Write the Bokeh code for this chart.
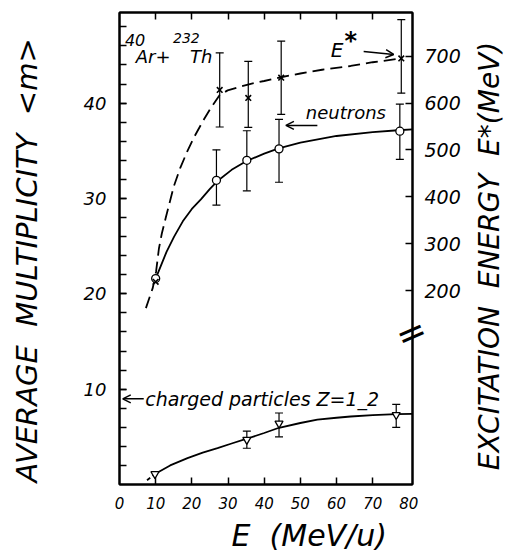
import math
from bokeh.plotting import figure
from bokeh.models import (Range1d, LinearAxis, FixedTicker, ColumnDataSource,
                          Whisker, TeeHead, Label, Arrow, OpenHead)
from bokeh.embed import file_html
from bokeh.resources import INLINE

# ---------------- data ----------------
x_label_ticks = [0, 10, 20, 30, 40, 50, 60, 70, 80]
x_inner_ticks = [10, 20, 30, 40, 50, 60, 70]
y_ticks = [10, 20, 30, 40]
y_minor_ticks = [2, 4, 6, 8, 10, 12, 14, 16, 18, 20, 22, 24, 26, 28, 30,
                 32, 34, 36, 38, 40, 42, 44, 46, 48]
estar_ticks = [200, 300, 400, 500, 600, 700]

# neutrons: average multiplicity
n_E = [10.0, 26.8, 35.2, 44.1, 77.5]
n_m = [21.6, 31.9, 34.0, 35.2, 37.05]
n_up = [None, 35.1, 37.1, 38.3, 39.9]
n_lo = [None, 29.3, 30.8, 31.7, 34.1]
n_fit_E = [10, 11.4, 13, 15.1, 17.5, 20, 22.5, 25, 27, 31, 35, 40, 44, 50, 60, 70, 77, 81]
n_fit_m = [21.6, 22.9, 24.4, 26.0, 27.6, 28.9, 29.9, 31.0, 31.8, 33.0, 33.9, 34.7,
           35.25, 35.85, 36.55, 36.95, 37.15, 37.25]

# excitation energy E* (MeV)
e_E = [10.0, 27.7, 35.6, 44.7, 77.9]
e_star = [219, 628, 611, 654, 695]
e_up = [None, 707, 689, 732, 778]
e_lo = [None, 549, 548, 576, 621]
e_fit_E = [7.3, 9.2, 10.1, 10.9, 11.7, 12.8, 13.7, 15.0, 16.8, 18.8, 20.6, 23.4,
           25.2, 27.7, 29.9, 33.0, 36.3, 40.0, 44.6, 50.0, 56.0, 63.9, 70.0, 77.9]
e_fit_star = [163, 206, 240, 290, 322, 356, 383, 422, 462, 498, 527, 566,
              589, 617, 627, 634, 641, 647, 655, 663, 671, 679, 687, 695]

# charged particles Z=1-2
c_E = [9.8, 35.2, 44.1, 76.5]
c_m = [1.1, 4.7, 6.4, 7.3]
c_up = [None, 5.6, 7.5, 8.4]
c_lo = [None, 3.8, 5.0, 6.0]
c_fit_E = [9.8, 14, 18.8, 23, 27.1, 31, 35.2, 40, 44.1, 50, 54.7, 60, 63.9, 70, 76.5, 81]
c_fit_m = [1.1, 2.0, 2.77, 3.35, 3.82, 4.3, 4.8, 5.4, 5.95, 6.45, 6.8, 7.0, 7.13,
           7.28, 7.38, 7.4]
c_ext_E = [7.6, 9.4]
c_ext_m = [0.45, 0.95]

FONT = "DejaVu Sans"
GAP = "\u00a0 "

p = figure(width=507, height=552, x_range=Range1d(0, 81), y_range=Range1d(0, 49.5),
           output_backend="svg", toolbar_location=None,
           min_border_left=119, min_border_right=95, min_border_top=12,
           min_border_bottom=68)
p.xgrid.visible = False
p.ygrid.visible = False
p.outline_line_color = "black"
p.outline_line_width = 2
p.background_fill_color = "white"
p.border_fill_color = "white"

p.extra_y_ranges = {"estar": Range1d(-213, 793)}


def style_axis(ax, size):
    ax.axis_line_color = "black"
    ax.axis_line_width = 2
    ax.major_tick_line_color = "black"
    ax.major_tick_line_width = 1.5
    ax.minor_tick_line_color = "black"
    ax.minor_tick_line_width = 1.5
    ax.major_tick_out = 0
    ax.minor_tick_out = 0
    ax.major_label_text_font = FONT
    ax.major_label_text_font_style = "italic"
    ax.major_label_text_font_size = size
    ax.major_label_text_color = "black"


# bottom axis
xa = p.xaxis[0]
xa.ticker = FixedTicker(ticks=x_label_ticks, minor_ticks=x_inner_ticks)
style_axis(xa, "15px")
xa.major_tick_in = 0
xa.minor_tick_in = 7
xa.major_label_standoff = 12

# left axis
ya = p.yaxis[0]
ya.ticker = FixedTicker(ticks=y_ticks, minor_ticks=y_minor_ticks)
style_axis(ya, "18px")
ya.major_tick_in = 7
ya.minor_tick_in = 7
ya.major_label_standoff = 13

# top axis (ticks only)
ta = LinearAxis(ticker=FixedTicker(ticks=x_inner_ticks, minor_ticks=[]))
style_axis(ta, "1px")
ta.major_label_text_color = None
ta.major_tick_in = 7
ta.minor_tick_in = 0
ta.major_label_standoff = 0
p.add_layout(ta, "above")

# right axis
ra = LinearAxis(y_range_name="estar", ticker=FixedTicker(ticks=estar_ticks, minor_ticks=[]))
style_axis(ra, "19px")
ra.major_tick_in = 7
ra.minor_tick_in = 0
ra.major_label_standoff = 12
p.add_layout(ra, "right")

# ---------------- curves ----------------
p.line(n_fit_E, n_fit_m, line_color="black", line_width=1.8)
p.line(c_fit_E, c_fit_m, line_color="black", line_width=1.8)
p.line(c_ext_E, c_ext_m, line_color="black", line_width=1.8, line_dash="4 3")
p.line(e_fit_E, e_fit_star, line_color="black", line_width=1.8, line_dash="12 6",
       y_range_name="estar")


def whisk(xs, ups, los, rng=None):
    idx = [i for i in range(len(xs)) if ups[i] is not None]
    src = ColumnDataSource(dict(x=[xs[i] for i in idx], up=[ups[i] for i in idx],
                                lo=[los[i] for i in idx]))
    w = Whisker(source=src, base="x", upper="up", lower="lo", dimension="height",
                line_color="black", line_width=1.2,
                upper_head=TeeHead(size=8, line_width=1.2, line_color="black"),
                lower_head=TeeHead(size=8, line_width=1.2, line_color="black"))
    if rng:
        w.y_range_name = rng
    p.add_layout(w)


whisk(n_E, n_up, n_lo)
whisk(e_E, e_up, e_lo, "estar")
whisk(c_E, c_up, c_lo)

p.scatter(n_E, n_m, marker="circle", size=8, fill_color="white", line_color="black",
          line_width=1.3)
p.scatter(e_E, e_star, marker="x", size=8, line_color="black", line_width=1.6,
          y_range_name="estar")
p.scatter(c_E, c_m, marker="inverted_triangle", size=8, fill_color="white",
          line_color="black", line_width=1.3)

# ---------------- annotations ----------------
def lab(x, y, t, size, style="italic", align="left", baseline="alphabetic",
        place=None, angle=0.0):
    lbl = Label(x=x, y=y, text=t, text_font=FONT, text_font_style=style,
                text_font_size=size, text_color="black", text_align=align,
                text_baseline=baseline, angle=angle)
    if place:
        p.add_layout(lbl, place)
    else:
        p.add_layout(lbl)


lab(1.5, 46.65, "40", "16px")
lab(4.5, 44.85, "Ar+", "18px")
lab(14.8, 46.85, "232", "14px")
lab(19.5, 44.85, "Th", "18px")
lab(58.4, 45.6, "E", "20px")
lab(62.2, 46.5, "*", "24px", style="bold")
lab(51.5, 39.0, "neutrons", "18px")
lab(7.1, 9.0, "charged particles Z=1_2", "19px")

# axis titles (placed in the side panels so they are not clipped to the frame)
lab(52.45, -5.4, "E" + GAP + "(MeV/u)", "30px", align="center", baseline="middle",
    place="below")
lab(-25.5, 23.5, "AVERAGE" + GAP + "MULTIPLICITY" + GAP + "<m>", "29px", align="center",
    baseline="middle", place="left", angle=math.pi / 2)
lab(102.4, 23.96, "EXCITATION" + GAP + "ENERGY" + GAP + "E*(MeV)", "28px", align="center",
    baseline="middle", place="right", angle=math.pi / 2)
# axis break mark on the right axis
lab(80.64, 15.9, "=", "36px", style="normal", align="center", baseline="middle",
    place="left", angle=0.41)

for (xs, ys, xe, ye) in [(67.5, 45.4, 75.8, 45.1), (54.7, 37.66, 46.0, 37.66),
                         (6.7, 8.98, 0.9, 8.98)]:
    p.add_layout(Arrow(x_start=xs, y_start=ys, x_end=xe, y_end=ye, line_width=1.5,
                       line_color="black",
                       end=OpenHead(size=8, line_width=1.5, line_color="black")))

open("out.html", "w").write(file_html(p, INLINE))
